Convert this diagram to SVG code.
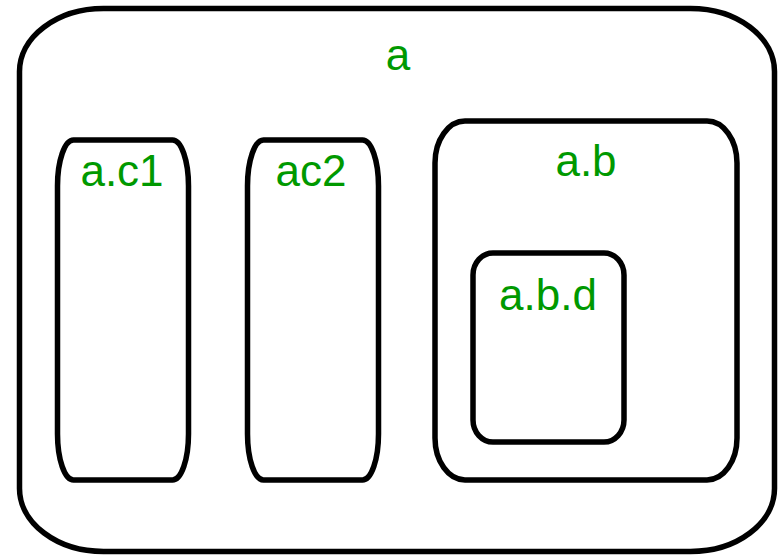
<svg xmlns="http://www.w3.org/2000/svg" width="779" height="555" viewBox="0 0 779 555">
<style>
.box{fill:#fff;stroke:#000;stroke-width:5.5}
.lbl{font-family:"Liberation Sans","DejaVu Sans",sans-serif;font-size:44px;fill:#009900;text-anchor:middle}
</style>
<rect width="779" height="555" fill="#fff"/>
<g id="a">
<rect class="box" x="19.5" y="8.5" width="755" height="543" rx="84" ry="63"/>
<text class="lbl" x="398" y="70">a</text>
</g>
<g id="a.c1">
<rect class="box" x="57.5" y="140" width="131" height="340" rx="16" ry="46"/>
<text class="lbl" x="122" y="186">a.c1</text>
</g>
<g id="ac2">
<rect class="box" x="247.5" y="140" width="131" height="340" rx="16" ry="46"/>
<text class="lbl" x="311" y="186">ac2</text>
</g>
<g id="a.b">
<rect class="box" x="435" y="121" width="302" height="359" rx="30" ry="42"/>
<text class="lbl" x="586" y="176">a.b</text>
</g>
<g id="a.b.d">
<rect class="box" x="473" y="253" width="151" height="189" rx="20" ry="22"/>
<text class="lbl" x="548" y="310">a.b.d</text>
</g>
<g id="connectors"/>
</svg>
